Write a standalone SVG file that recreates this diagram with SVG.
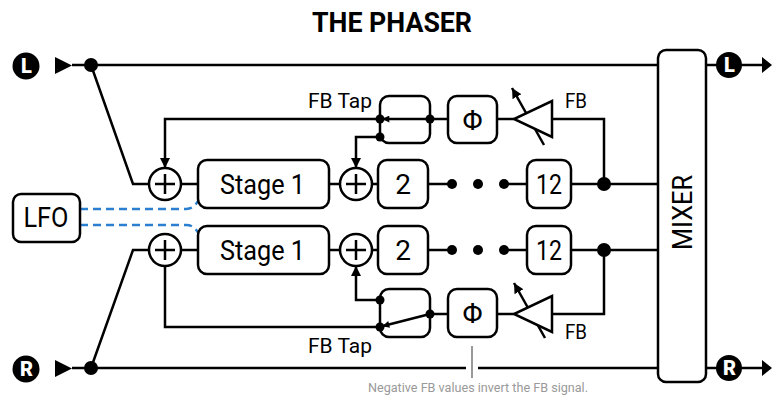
<svg xmlns="http://www.w3.org/2000/svg" width="773" height="398" viewBox="0 0 773 398">
<style>
.ln{fill:none;stroke:#000;stroke-width:2.5;stroke-linejoin:miter}
.bx{fill:#fff;stroke:#000;stroke-width:2.5}
.dot{fill:#000}
.t{font-family:Roboto,"Liberation Sans",sans-serif;fill:#000}
.lbl{font-size:28px;text-anchor:middle}
.sm{font-size:21px}
.io{font-family:Roboto,"Liberation Sans",sans-serif;font-weight:900;font-size:20px;fill:#fff;text-anchor:middle}
.lfo{fill:none;stroke:#2a7fd0;stroke-width:2.5;stroke-dasharray:8 5}
</style>
<defs>
<marker id="ah" viewBox="0 0 10 10" refX="10" refY="5" markerWidth="10" markerHeight="10" markerUnits="userSpaceOnUse" orient="auto"><path d="M0,0L10,5L0,10Z" fill="#000"/></marker>
<marker id="as" viewBox="0 0 10 10" refX="9" refY="5" markerWidth="8" markerHeight="7" markerUnits="userSpaceOnUse" orient="auto"><path d="M0,0L10,5L0,10Z" fill="#000"/></marker>
</defs>
<rect width="773" height="398" fill="#fff"/>
<text class="t" x="392" y="32" font-size="28" font-weight="bold" text-anchor="middle" textLength="160" lengthAdjust="spacingAndGlyphs">THE PHASER</text>

<g id="connectors">
<line class="ln" x1="72" y1="65" x2="658" y2="65"/>
<path class="ln" d="M72,368H466M478,368H658"/>
<path class="ln" d="M91,65L133,184H149"/>
<path class="ln" d="M91,368L133,250H149"/>
<path class="ln" d="M181,184H198M329,184H340M372,184H378M428,184H450M506,184H527M571,184H658"/>
<path class="ln" d="M181,250H198M329,250H340M372,250H378M428,250H450M506,250H527M571,250H658"/>
<path class="ln" d="M604,184V119H552"/>
<path class="ln" d="M497,119H514"/>
<path class="ln" d="M430,119H448"/>
<path class="ln" d="M380,119H165V168" marker-end="url(#ah)"/>
<path class="ln" d="M380,137H356V168" marker-end="url(#ah)"/>
<path class="ln" d="M430,119H383" marker-end="url(#as)"/>
<path class="ln" d="M544,145L512,88" marker-end="url(#ah)"/>
<path class="ln" d="M604,250V314H552"/>
<path class="ln" d="M497,314H514"/>
<path class="ln" d="M430,314H448"/>
<path class="ln" d="M380,327H165V266"/>
<path class="ln" d="M380,300H356V266" marker-end="url(#ah)"/>
<path class="ln" d="M430,314L383,326" marker-end="url(#as)"/>
<path class="ln" d="M545,338L514,283" marker-end="url(#ah)"/>
<path class="ln" d="M706,65H762M706,368H762"/>
<path class="lfo" d="M80,209H186C193,209 196,205 199,199"/>
<path class="lfo" d="M80,225H186C193,225 196,229 199,234"/>
<line x1="472" y1="346" x2="472" y2="378" stroke="#999" stroke-width="2"/>
</g>

<g id="in-L">
<circle cx="26" cy="66" r="13.5" fill="#000"/>
<text class="io" x="26.5" y="73">L</text>
<path d="M55,57L72,65.5L55,74Z" fill="#000"/>
<circle class="dot" cx="91" cy="65" r="7"/>
</g>
<g id="in-R">
<circle cx="26" cy="369" r="13.5" fill="#000"/>
<text class="io" x="26.5" y="376">R</text>
<path d="M55,360L72,368.5L55,377Z" fill="#000"/>
<circle class="dot" cx="91" cy="368" r="7"/>
</g>

<g id="lfo">
<rect class="bx" x="13" y="194" width="67" height="48" rx="8"/>
<text class="t lbl" x="46" y="227" textLength="45" lengthAdjust="spacingAndGlyphs">LFO</text>
</g>

<g id="sum-1u"><circle class="bx" cx="165" cy="184" r="16"/><path class="ln" d="M155,184H175M165,174V194"/></g>
<g id="sum-1l"><circle class="bx" cx="165" cy="250" r="16"/><path class="ln" d="M155,250H175M165,240V260"/></g>
<g id="sum-2u"><circle class="bx" cx="356" cy="184" r="16"/><path class="ln" d="M346,184H366M356,174V194"/></g>
<g id="sum-2l"><circle class="bx" cx="356" cy="250" r="16"/><path class="ln" d="M346,250H366M356,240V260"/></g>

<g id="stage1-u"><rect class="bx" x="198" y="160" width="131" height="48" rx="9"/><text class="t lbl" x="262.5" y="194" textLength="85" lengthAdjust="spacingAndGlyphs">Stage 1</text></g>
<g id="stage1-l"><rect class="bx" x="198" y="226" width="131" height="48" rx="9"/><text class="t lbl" x="262.5" y="260" textLength="85" lengthAdjust="spacingAndGlyphs">Stage 1</text></g>
<g id="stage2-u"><rect class="bx" x="378" y="160" width="50" height="48" rx="9"/><text class="t lbl" x="403" y="194">2</text></g>
<g id="stage2-l"><rect class="bx" x="378" y="226" width="50" height="48" rx="9"/><text class="t lbl" x="403" y="260">2</text></g>
<g id="dots-u"><circle class="dot" cx="452" cy="184" r="5"/><circle class="dot" cx="478" cy="184" r="5"/><circle class="dot" cx="504" cy="184" r="5"/></g>
<g id="dots-l"><circle class="dot" cx="452" cy="250" r="5"/><circle class="dot" cx="478" cy="250" r="5"/><circle class="dot" cx="504" cy="250" r="5"/></g>
<g id="stage12-u"><rect class="bx" x="527" y="160" width="44" height="48" rx="9"/><text class="t lbl" x="549" y="194" textLength="26" lengthAdjust="spacingAndGlyphs">12</text></g>
<g id="stage12-l"><rect class="bx" x="527" y="226" width="44" height="48" rx="9"/><text class="t lbl" x="549" y="260" textLength="26" lengthAdjust="spacingAndGlyphs">12</text></g>
<g id="junc-u"><circle class="dot" cx="604" cy="184" r="7"/></g>
<g id="junc-l"><circle class="dot" cx="604" cy="250" r="7"/></g>

<g id="tap-u">
<rect class="ln" x="380" y="96" width="50" height="47" rx="9"/>
<circle class="dot" cx="380" cy="119" r="4.5"/><circle class="dot" cx="380" cy="137" r="4.5"/><circle class="dot" cx="430" cy="119" r="4.5"/>
<text class="t sm" x="308" y="108" textLength="64" lengthAdjust="spacingAndGlyphs">FB Tap</text>
</g>
<g id="tap-l">
<rect class="ln" x="380" y="289" width="50" height="48" rx="9"/>
<circle class="dot" cx="380" cy="300" r="4.5"/><circle class="dot" cx="380" cy="327" r="4.5"/><circle class="dot" cx="430" cy="314" r="4.5"/>
<text class="t sm" x="308" y="353" textLength="64" lengthAdjust="spacingAndGlyphs">FB Tap</text>
</g>
<g id="phase-u"><rect class="bx" x="448" y="96" width="49" height="47" rx="9"/><text class="t lbl" x="472.5" y="130">Φ</text></g>
<g id="phase-l"><rect class="bx" x="448" y="289" width="49" height="48" rx="9"/><text class="t lbl" x="472.5" y="323">Φ</text></g>
<g id="gain-u"><path class="bx" d="M552,101V137L514,119Z"/><text class="t sm" x="565" y="108" textLength="22" lengthAdjust="spacingAndGlyphs">FB</text></g>
<g id="gain-l"><path class="bx" d="M552,296V332L514,314Z"/><text class="t sm" x="565" y="339" textLength="22" lengthAdjust="spacingAndGlyphs">FB</text></g>

<g id="mixer">
<rect class="bx" x="658" y="50" width="48" height="332" rx="8"/>
<text class="t lbl" transform="translate(692,212.5) rotate(-90)" textLength="75" lengthAdjust="spacingAndGlyphs">MIXER</text>
</g>

<g id="out-L">
<circle cx="729" cy="65" r="13" fill="#000"/>
<text class="io" x="729.5" y="72">L</text>
<path d="M762,57L772,65L762,73Z" fill="#000"/>
</g>
<g id="out-R">
<circle cx="729" cy="368" r="13" fill="#000"/>
<text class="io" x="729.5" y="375">R</text>
<path d="M762,360L772,368L762,376Z" fill="#000"/>
</g>

<text x="478" y="392" font-family="Roboto,'Liberation Sans',sans-serif" font-size="12.5" fill="#999" text-anchor="middle" textLength="220" lengthAdjust="spacingAndGlyphs">Negative FB values invert the FB signal.</text>
</svg>
